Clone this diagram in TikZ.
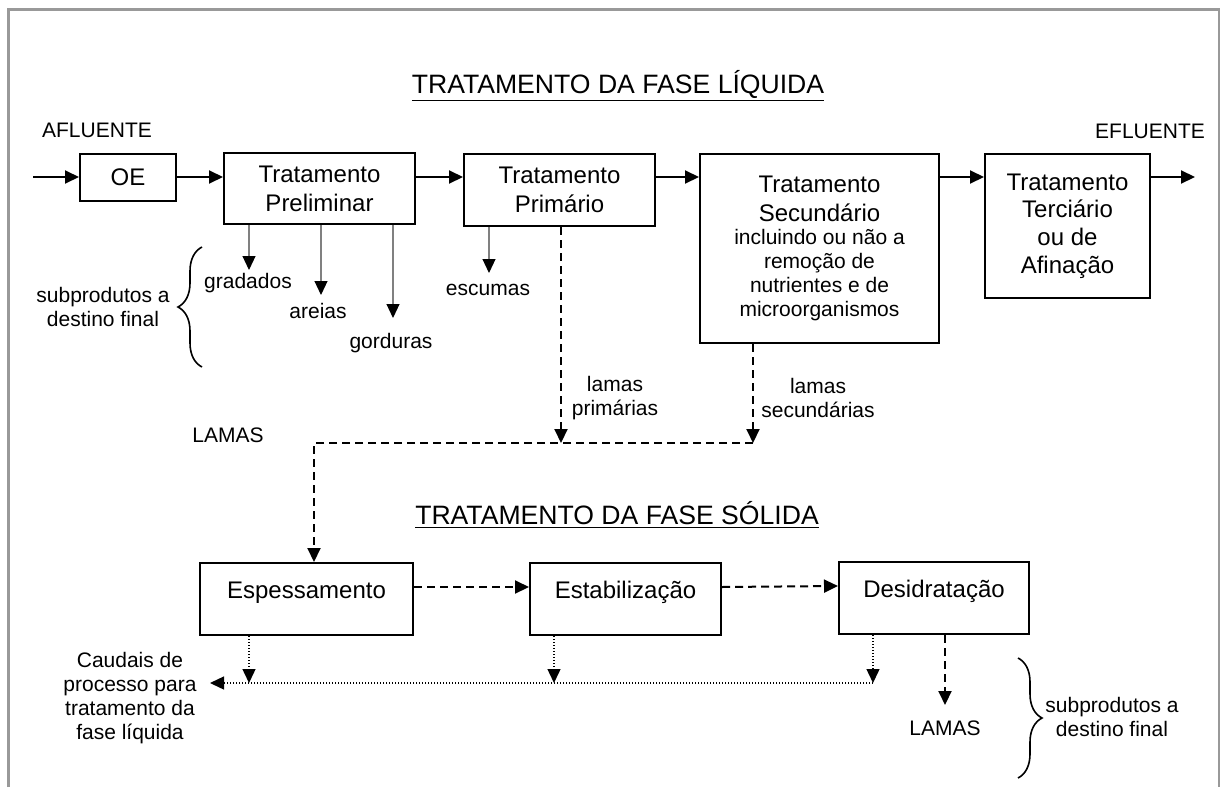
\documentclass[tikz,border=0pt]{standalone}
\usepackage{fontspec}
\setmainfont{Liberation Sans}
\usetikzlibrary{arrows.meta,decorations.pathreplacing}
\newcommand\boxfont{\fontsize{12}{14.5}\selectfont}
\newcommand\labfont{\fontsize{10.5}{12}\selectfont}
\newcommand\headfont{\fontsize{13.3}{16}\selectfont}
\tikzset{stage/.style={draw, line width=1pt, align=center, font=\boxfont, inner sep=0pt},
    lowstage/.style={stage, minimum height=36pt, text depth=9pt},
    tag/.style={align=center, font=\labfont, inner sep=0pt},
    head/.style={font=\headfont, inner sep=0pt, anchor=base},
    flow/.style={line width=1pt, -{Triangle[length=7pt,width=6.5pt]}},
    sludge/.style={flow, dash pattern=on 4pt off 2.5pt},
    recirc/.style={flow, line width=0.7pt, dash pattern=on 0.7pt off 0.8pt},
    byprod/.style={draw=black!50, line width=0.6pt, -{Triangle[length=7pt,width=6.5pt,black]}},
    curly/.style={decorate, decoration={brace, amplitude=12pt}, line width=0.8pt},
    frame/.style={draw=black!40, line width=1.5pt},
    }

\begin{document}
\begin{tikzpicture}[x=0.5pt, y=-0.5pt]
\useasboundingbox (0,0) rectangle (1220,787);
\draw[frame] (8,787) -- (8,9) -- (1219,9) -- (1219,787);

% fase liquida
\node[head] (t1) at (618,93) {\underline{TRATAMENTO DA FASE LÍQUIDA}};
\node[tag, anchor=base] (afl) at (97,137) {AFLUENTE};
\node[tag, anchor=base] (efl) at (1150,138) {EFLUENTE};
\node[stage, minimum width=48pt, minimum height=23.5pt] (oe) at (128,177) {OE};
\node[stage, minimum width=95.5pt, minimum height=35.5pt] (prel) at (319.5,188.5) {Tratamento\\Preliminar};
\node[stage, minimum width=95.5pt, minimum height=36pt] (prim) at (559.5,190) {Tratamento\\Primário};
\node[stage, minimum width=119.5pt, minimum height=94.5pt] (sec) at (819.5,248.5)
    {Tratamento\\Secundário\\[-3pt]\labfont incluindo ou não a\\[-2.5pt]\labfont remoção de\\[-2.5pt]\labfont nutrientes e de\\[-2.5pt]\labfont microorganismos};
\node[stage, minimum width=82.5pt, minimum height=72pt] (ter) at (1067.5,226) {Tratamento\\[-0.7pt]Terciário\\[-0.7pt]ou de\\[-0.7pt]Afinação};
\coordinate (in) at (33,177);
\coordinate (out) at (1195,177);
\draw[flow] (in) -- (oe);
\draw[flow] (oe.east) -- (oe.east -| prel.west);
\draw[flow] (oe.east -| prel.east) -- (oe.east -| prim.west);
\draw[flow] (oe.east -| prim.east) -- (oe.east -| sec.west);
\draw[flow] (oe.east -| sec.east) -- (oe.east -| ter.west);
\draw[flow] (oe.east -| ter.east) -- (out);

% subprodutos
\coordinate (gr) at (249,270);
\coordinate (ar) at (321,295);
\coordinate (go) at (393,318);
\coordinate (es) at (489,273);
\draw[byprod] (gr |- prel.south) -- (gr);
\draw[byprod] (ar |- prel.south) -- (ar);
\draw[byprod] (go |- prel.south) -- (go);
\draw[byprod] (es |- prim.south) -- (es);
\node[tag, anchor=base] (grad) at (248,288) {gradados};
\node[tag, anchor=base] (arei) at (318,318) {areias};
\node[tag, anchor=base] (gord) at (391,348) {gorduras};
\node[tag, anchor=base] (escu) at (488,295) {escumas};
\coordinate (b1) at (202,367);
\coordinate (b2) at (202,247);
\draw[curly] (b1) -- (b2);
\node[tag] (sub1) at (103,307) {subprodutos a\\destino final};

% lamas
\coordinate (j0) at (314,443);
\coordinate (j1) at (561,443);
\coordinate (j2) at (753,443);
\draw[sludge] (j1 |- prim.south) -- (j1);
\draw[sludge] (j2 |- sec.south) -- (j2);
\node[tag] (lp) at (615,398) {lamas\\primárias};
\node[tag] (ls) at (818,398) {lamas\\secundárias};
\node[tag, anchor=base] (lam1) at (228,442) {LAMAS};

% fase solida
\node[head] (t2) at (617,524) {\underline{TRATAMENTO DA FASE SÓLIDA}};
\node[lowstage, minimum width=106.5pt] (esp) at (306.5,599) {Espessamento};
\node[lowstage, minimum width=95.5pt] (est) at (625.5,599) {Estabilização};
\node[lowstage, minimum width=95pt] (des) at (934,598) {Desidratação};
\draw[sludge] (j2) -- (j0) -- (esp.north -| j0);
\draw[sludge] ([yshift=6pt]esp.east) -- ([yshift=6pt]est.west);
\draw[sludge] ([yshift=6pt]est.east) -- ([yshift=6pt]des.west);

% caudais de processo
\coordinate (d1) at (249,683);
\coordinate (d2) at (554,683);
\coordinate (d3) at (873,683);
\coordinate (cb) at (210,683);
\draw[recirc] (d1 |- esp.south) -- (d1);
\draw[recirc] (d2 |- est.south) -- (d2);
\draw[recirc] (d3 |- des.south) -- (d3);
\draw[recirc] (d3) -- (cb);
\node[tag] (caud) at (130,698) {Caudais de\\processo para\\tratamento da\\fase líquida};

% destino final
\coordinate (lm) at (945,705);
\draw[sludge] (lm |- des.south) -- (lm);
\node[tag, anchor=base] (lam2) at (945,735) {LAMAS};
\coordinate (b3) at (1018,658);
\coordinate (b4) at (1018,778);
\draw[curly] (b3) -- (b4);
\node[tag] (sub2) at (1112,717) {subprodutos a\\destino final};
\end{tikzpicture}
\end{document}
